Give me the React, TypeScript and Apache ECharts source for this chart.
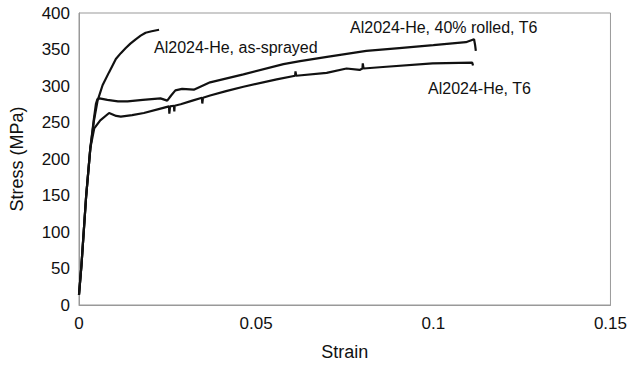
import React, { useEffect, useRef } from "react";
import * as echarts from "echarts";

const asSprayed: [number, number][] = [
  [0, 14], [0.0007, 55], [0.002, 148], [0.0032, 215], [0.0042, 252], [0.00525, 280],
  [0.00665, 301], [0.0085, 319], [0.0104, 337], [0.0118, 345], [0.0132, 352], [0.0145, 358],
  [0.016, 364], [0.0174, 369], [0.0188, 373], [0.0205, 375], [0.0226, 377],
];

const rolledT6: [number, number][] = [
  [0, 14], [0.0007, 55], [0.002, 148], [0.0032, 215], [0.0042, 255], [0.0048, 276],
  [0.0052, 282], [0.0058, 283], [0.008, 281], [0.011, 279], [0.0137, 279], [0.018, 281],
  [0.023, 283], [0.0249, 280], [0.026, 287], [0.0272, 294], [0.0291, 296], [0.0324, 295],
  [0.037, 305], [0.0464, 316], [0.0577, 330], [0.0624, 334], [0.07, 340], [0.0811, 348],
  [0.0904, 352], [0.1, 356], [0.1092, 360], [0.1115, 364], [0.1118, 356], [0.112, 348],
];

const t6: [number, number][] = [
  [0, 14], [0.0007, 55], [0.002, 148], [0.0032, 215], [0.0043, 242], [0.006, 253],
  [0.0085, 263], [0.0105, 259], [0.0118, 258], [0.015, 260], [0.0183, 263], [0.023, 269],
  [0.0254, 272], [0.0255, 262], [0.0257, 272], [0.0268, 273], [0.0269, 265], [0.027, 273],
  [0.0287, 275], [0.032, 280], [0.0347, 284], [0.0348, 276], [0.035, 284], [0.037, 287],
  [0.0415, 293], [0.0464, 299], [0.0558, 309], [0.061, 314], [0.0611, 320], [0.0613, 314],
  [0.0699, 318], [0.0755, 324], [0.0792, 322], [0.08, 324], [0.0801, 331], [0.0803, 324],
  [0.0858, 326], [0.0998, 331], [0.111, 332], [0.1112, 328],
];

const seriesNames = ["Al2024-He, as-sprayed", "Al2024-He, 40% rolled, T6", "Al2024-He, T6"];
const xTicks = { min: 0, max: 0.15, interval: 0.05 };
const yTicks = { min: 0, max: 400, interval: 50 };

export default function App() {
  const ref = useRef<HTMLDivElement>(null);
  useEffect(() => {
    if (!ref.current) return;
    const chart = echarts.init(ref.current, undefined, { renderer: "svg" });
    const font = "Liberation Sans, Arial, sans-serif";
    const lineStyle = { color: "#111", width: 2.2 };
    chart.setOption({
      animation: false,
      backgroundColor: "#fff",
      grid: {
        left: 78, right: 18, top: 13, bottom: 56,
        show: true, borderColor: "#999", borderWidth: 1,
      },
      xAxis: {
        type: "value", ...xTicks,
        name: "Strain", nameLocation: "middle", nameGap: 38,
        nameTextStyle: { fontFamily: font, fontSize: 18, color: "#111" },
        axisLine: { show: true, lineStyle: { color: "#999" } },
        axisTick: { show: false },
        splitLine: { show: false },
        axisLabel: { fontFamily: font, fontSize: 17, color: "#111", margin: 10 },
      },
      yAxis: {
        type: "value", ...yTicks,
        name: "Stress (MPa)", nameLocation: "middle", nameGap: 53,
        nameTextStyle: { fontFamily: font, fontSize: 18, color: "#111" },
        axisLine: { show: true, lineStyle: { color: "#999" } },
        axisTick: { show: false },
        splitLine: { show: false },
        axisLabel: { fontFamily: font, fontSize: 17, color: "#111", margin: 9 },
      },
      series: [
        { name: seriesNames[0], type: "line", data: asSprayed, showSymbol: false, smooth: false, lineStyle },
        { name: seriesNames[1], type: "line", data: rolledT6, showSymbol: false, smooth: false, lineStyle },
        { name: seriesNames[2], type: "line", data: t6, showSymbol: false, smooth: false, lineStyle },
      ],
      graphic: [
        { type: "text", x: 154, y: 47, style: { text: seriesNames[0], font: `16px ${font}`, fill: "#111", verticalAlign: "middle" } },
        { type: "text", x: 350, y: 27, style: { text: seriesNames[1], font: `16px ${font}`, fill: "#111", verticalAlign: "middle" } },
        { type: "text", x: 428, y: 88, style: { text: seriesNames[2], font: `16px ${font}`, fill: "#111", verticalAlign: "middle" } },
      ],
    });
    return () => chart.dispose();
  }, []);
  return (
    <div
      ref={ref}
      style={{ position: "fixed", left: 0, top: 0, width: 630, height: 366 }}
    />
  );
}
